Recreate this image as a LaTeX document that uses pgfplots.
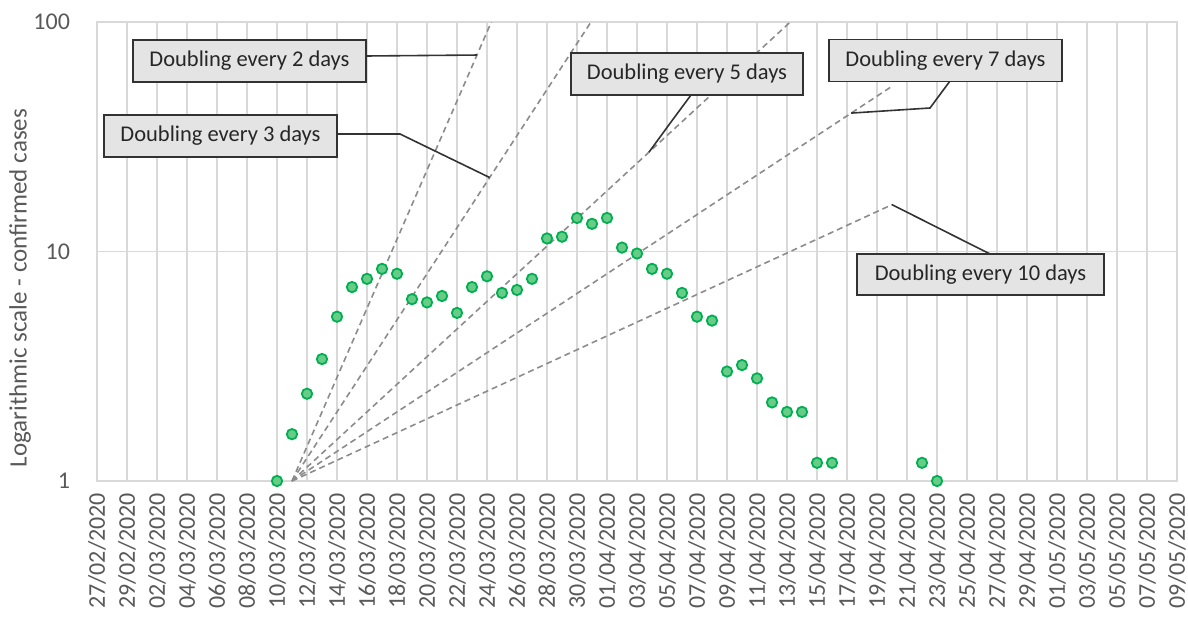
\documentclass[border=0pt]{standalone}
\usepackage{fontspec}
\setmainfont{Carlito}
\usepackage{pgfplots}
\pgfplotsset{compat=1.18}
\definecolor{txtgray}{RGB}{89,89,89}
\definecolor{gridgray}{RGB}{217,217,217}
\definecolor{dashgray}{RGB}{140,140,140}
\definecolor{dotfill}{RGB}{102,204,136}
\definecolor{dotdraw}{RGB}{0,176,80}
\definecolor{boxfill}{RGB}{228,228,228}
\definecolor{boxdraw}{RGB}{50,50,50}
\begin{document}
\begin{tikzpicture}
\useasboundingbox (0,0) rectangle (594pt,308.5pt);
\begin{axis}[
  at={(48.5pt,68pt)}, anchor=south west,
  scale only axis, width=540pt, height=229.5pt,
  xmin=0, xmax=72, ymin=1, ymax=100, ymode=log,
  xtick={0,2,...,72},
  xticklabels={27/02/2020,29/02/2020,02/03/2020,04/03/2020,06/03/2020,08/03/2020,10/03/2020,12/03/2020,14/03/2020,16/03/2020,18/03/2020,20/03/2020,22/03/2020,24/03/2020,26/03/2020,28/03/2020,30/03/2020,01/04/2020,03/04/2020,05/04/2020,07/04/2020,09/04/2020,11/04/2020,13/04/2020,15/04/2020,17/04/2020,19/04/2020,21/04/2020,23/04/2020,25/04/2020,27/04/2020,29/04/2020,01/05/2020,03/05/2020,05/05/2020,07/05/2020,09/05/2020},
  ytick={1,10,100}, yticklabels={1,10,100},
  yminorticks=false, xminorticks=false,
  major tick length=0pt,
  grid=major, major grid style={gridgray, line width=0.6pt},
  axis line style={gridgray, line width=0.6pt},
  tick label style={font=\fontsize{12}{14}\selectfont, text=txtgray},
  xticklabel style={rotate=90, anchor=east},
  xticklabel shift=2.5pt,
  yticklabel shift=10pt,
  clip=true,
]
\addplot[dashgray, line width=0.8pt, dash pattern=on 3pt off 2pt] coordinates {(13,1) (26.2877,100)};
\addplot[dashgray, line width=0.8pt, dash pattern=on 3pt off 2pt] coordinates {(13,1) (32.9316,100)};
\addplot[dashgray, line width=0.8pt, dash pattern=on 3pt off 2pt] coordinates {(13,1) (46.2193,100)};
\addplot[dashgray, line width=0.8pt, dash pattern=on 3pt off 2pt] coordinates {(13,1) (53,52.48)};
\addplot[dashgray, line width=0.8pt, dash pattern=on 3pt off 2pt] coordinates {(13,1) (53,16)};
\addplot[only marks, mark=*, mark size=2.6pt, mark options={fill=dotfill, draw=dotdraw, line width=0.9pt}] coordinates {
(12,1) (13,1.6) (14,2.4) (15,3.4) (16,5.2) (17,7.0) (18,7.6) (19,8.4) (20,8.0)
(21,6.2) (22,6.0) (23,6.4) (24,5.4) (25,7.0) (26,7.8) (27,6.6) (28,6.8) (29,7.6)
(30,11.4) (31,11.6) (32,14.0) (33,13.2) (34,14.0) (35,10.4) (36,9.8) (37,8.4)
(38,8.0) (39,6.6) (40,5.2) (41,5.0) (42,3.0) (43,3.2) (44,2.8) (45,2.2) (46,2.0)
(47,2.0) (48,1.2) (49,1.2) (55,1.2) (56,1.0)};
\coordinate (e2) at (axis cs:25.33,71.8);
\coordinate (e3) at (axis cs:26.18,21.0);
\coordinate (e5) at (axis cs:36.8,27.1);
\coordinate (e7) at (axis cs:50.28,40.1);
\coordinate (e10) at (axis cs:53,16);
\end{axis}
\node[rotate=90, font=\fontsize{12.5}{14}\selectfont, text=txtgray] at (10pt,164.5pt) {Logarithmic scale - confirmed cases};
\tikzset{bx/.style={draw=boxdraw, fill=boxfill, line width=0.9pt, inner sep=0pt, minimum height=21pt, font=\fontsize{11.25}{13}\selectfont, text=black!85},
  co/.style={draw=black!80, line width=0.8pt}}
\draw[co] (183pt,280.5pt) -- (e2);
\draw[co] (168.5pt,241.5pt) -- (200pt,241.5pt) -- (e3);
\draw[co] (345.5pt,261pt) -- (335.5pt,247.5pt) -- (e5);
\draw[co] (475pt,268pt) -- (465pt,254.5pt) -- (e7);
\draw[co] (495pt,181.5pt) -- (e10);
\node[bx, minimum width=116.5pt] at (124.75pt,278pt) {Doubling every 2 days};
\node[bx, minimum width=116.5pt] at (110.25pt,240.5pt) {Doubling every 3 days};
\node[bx, minimum width=116pt] at (343.5pt,271.5pt) {Doubling every 5 days};
\node[bx, minimum width=116.5pt] at (472.75pt,278.25pt) {Doubling every 7 days};
\node[bx, minimum width=123.5pt, minimum height=20.5pt] at (490.25pt,171.25pt) {Doubling every 10 days};
\end{tikzpicture}
\end{document}
